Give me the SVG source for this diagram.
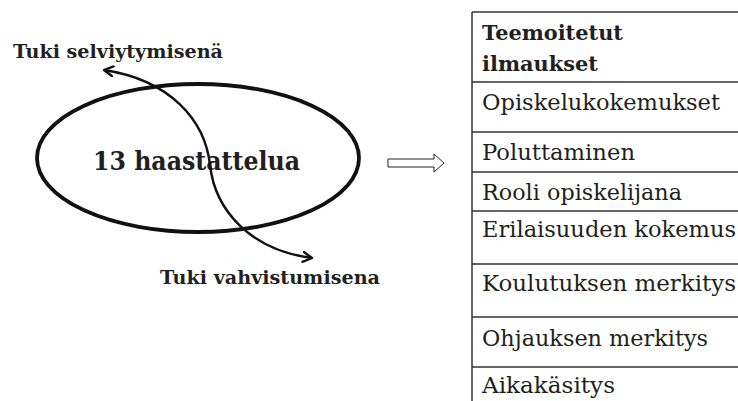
<svg xmlns="http://www.w3.org/2000/svg" width="738" height="401" viewBox="0 0 738 401">
<style>
.t{font-family:"DejaVu Serif","Liberation Serif",serif;fill:#231f20}
.b{font-weight:bold}
.row{font-size:22px}
.tl{stroke:#333;stroke-width:1.5;fill:none}
</style>
<defs>
<marker id="ah" viewBox="0 0 12 12" refX="10" refY="6" markerWidth="12" markerHeight="12" markerUnits="userSpaceOnUse" orient="auto-start-reverse">
<path d="M1,1 L10,6 L1,11" fill="none" stroke="#111" stroke-width="2.4" stroke-linecap="round" stroke-linejoin="round"/>
</marker>
</defs>
<rect width="738" height="401" fill="#fff"/>
<g id="interviews">
<ellipse cx="198" cy="158" rx="161" ry="74" fill="none" stroke="#111" stroke-width="3.8"/>
<text class="t b" x="93" y="170" font-size="26" textLength="207" lengthAdjust="spacingAndGlyphs">13 haastattelua</text>
</g>
<g id="label-selviytyminen">
<text class="t b" x="13" y="58" font-size="18.5" textLength="210" lengthAdjust="spacingAndGlyphs">Tuki selviytymisenä</text>
</g>
<g id="label-vahvistuminen">
<text class="t b" x="160" y="284" font-size="18.5" textLength="220" lengthAdjust="spacingAndGlyphs">Tuki vahvistumisena</text>
</g>
<g id="connectors">
<path d="M104,70 C170,80 205,120 210,165 C215,210 250,250 312,258" fill="none" stroke="#111" stroke-width="2.4" marker-start="url(#ah)" marker-end="url(#ah)"/>
<polygon points="388,159 434,159 434,154 444,163 434,172 434,167 388,167" fill="#fff" stroke="#222" stroke-width="1"/>
</g>
<g id="table">
<path class="tl" d="M472,12 V401 M472,12 H738 M472,82 H738 M472,132 H738 M472,172 H738 M472,211 H738 M472,264 H738 M472,317 H738 M472,367 H738"/>
<text class="t b" x="482" y="40" font-size="20" textLength="141" lengthAdjust="spacingAndGlyphs">Teemoitetut</text>
<text class="t b" x="482" y="71" font-size="20" textLength="116" lengthAdjust="spacingAndGlyphs">ilmaukset</text>
<text class="t row" x="482" y="110" textLength="238" lengthAdjust="spacingAndGlyphs">Opiskelukokemukset</text>
<text class="t row" x="482" y="160" textLength="153" lengthAdjust="spacingAndGlyphs">Poluttaminen</text>
<text class="t row" x="482" y="200" textLength="200" lengthAdjust="spacingAndGlyphs">Rooli opiskelijana</text>
<text class="t row" x="482" y="237" textLength="254" lengthAdjust="spacingAndGlyphs">Erilaisuuden kokemus</text>
<text class="t row" x="482" y="291" textLength="254" lengthAdjust="spacingAndGlyphs">Koulutuksen merkitys</text>
<text class="t row" x="482" y="346" textLength="226" lengthAdjust="spacingAndGlyphs">Ohjauksen merkitys</text>
<text class="t row" x="482" y="393" textLength="133" lengthAdjust="spacingAndGlyphs">Aikakäsitys</text>
</g>
</svg>
